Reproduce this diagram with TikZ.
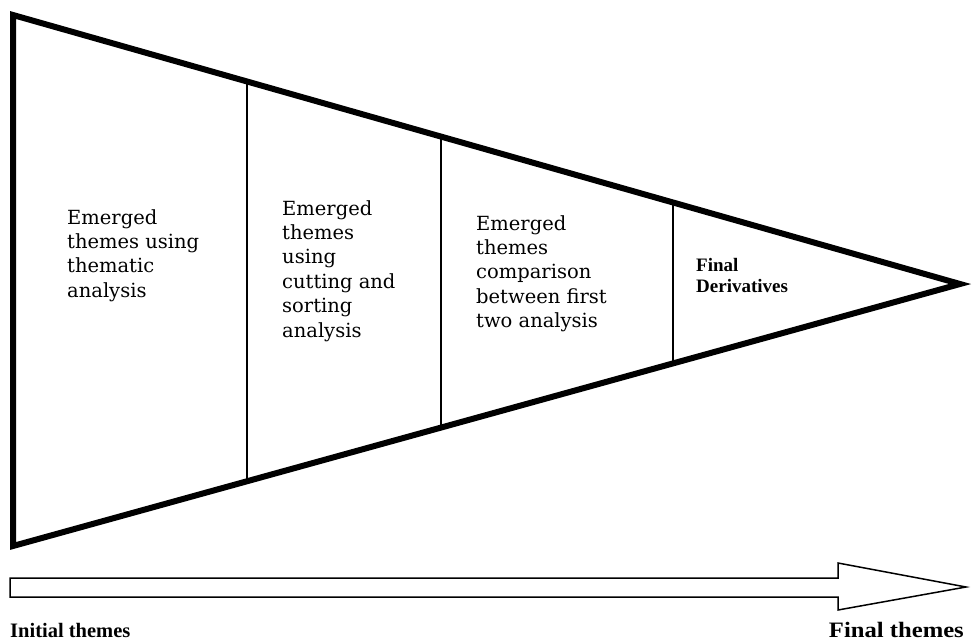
\documentclass[tikz,border=0pt]{standalone}
\usepackage{fontspec}
\usepackage{graphicx}
\setmainfont{Liberation Serif}
\newfontfamily\bodyserif{DejaVu Serif}
\usetikzlibrary{calc}

% text styles for the stage descriptions
\newcommand\stagefont{\bodyserif\fontsize{19.5}{24.4}\selectfont}
\newcommand\finalfont{\bfseries\fontsize{19}{21}\selectfont}
\newcommand\stagelines[1]{\parbox[t]{180pt}{\raggedright#1}}

\begin{document}
\begin{tikzpicture}[x=1pt,y=-1pt,
  funnel/.style={line width=6pt, line join=miter},
  divider/.style={line width=1.4pt},
  flowarrow/.style={line width=1.5pt, line join=miter},
  stagetext/.style={anchor=base west, inner sep=0pt},
  endlabel/.style={inner sep=0pt, font=\bfseries\fontsize{20.5}{24}\selectfont}]

\fill[white] (0,0) rectangle (972,640);
\useasboundingbox (0,0) rectangle (972,640);

% corners of the funnel
\coordinate (TL) at (13,15);
\coordinate (BL) at (13,546);
\coordinate (apex) at (960,284);

% stage dividers, running from the upper edge to the lower edge
\foreach \t/\n in {0.2471/a, 0.4520/b, 0.6969/c} {
  \coordinate (top\n) at ($(TL)!\t!(apex)$);
  \coordinate (bot\n) at ($(BL)!\t!(apex)$);
  \draw[divider] (top\n) -- (bot\n);
}

% the funnel outline
\draw[funnel] (TL) -- (apex) -- (BL) -- cycle;

% stage texts
\node[stagetext] (stage1) at (67,224)
  {\stagelines{\stagefont Emerged\\themes using\\thematic\\analysis}};
\node[stagetext] (stage2) at (282,215)
  {\stagelines{\stagefont Emerged\\themes\\using\\cutting and\\sorting\\analysis}};
\node[stagetext] (stage3) at (476,230)
  {\stagelines{\stagefont Emerged\\themes\\comparison\\between first\\two analysis}};
\node[stagetext] (stage4) at (696,271)
  {\stagelines{\finalfont Final\\Derivatives}};

% hollow progress arrow
\coordinate (s1) at (10,578);
\coordinate (h1) at (838,578);
\coordinate (h2) at (838,563);
\coordinate (tip) at (966,587);
\coordinate (h3) at (838,610);
\coordinate (h4) at (838,597);
\coordinate (s2) at (10,597);
\draw[flowarrow] (s1) -- (h1) -- (h2) -- (tip) -- (h3) -- (h4) -- (s2) -- cycle;

% ends of the progression
\node[endlabel, anchor=base west] (initial) at (10,637) {Initial themes};
\node[endlabel, anchor=base east] (final) at (964,637)
  {\scalebox{1.12}[1]{\fontsize{22}{24}\selectfont Final themes}};
\end{tikzpicture}
\end{document}
